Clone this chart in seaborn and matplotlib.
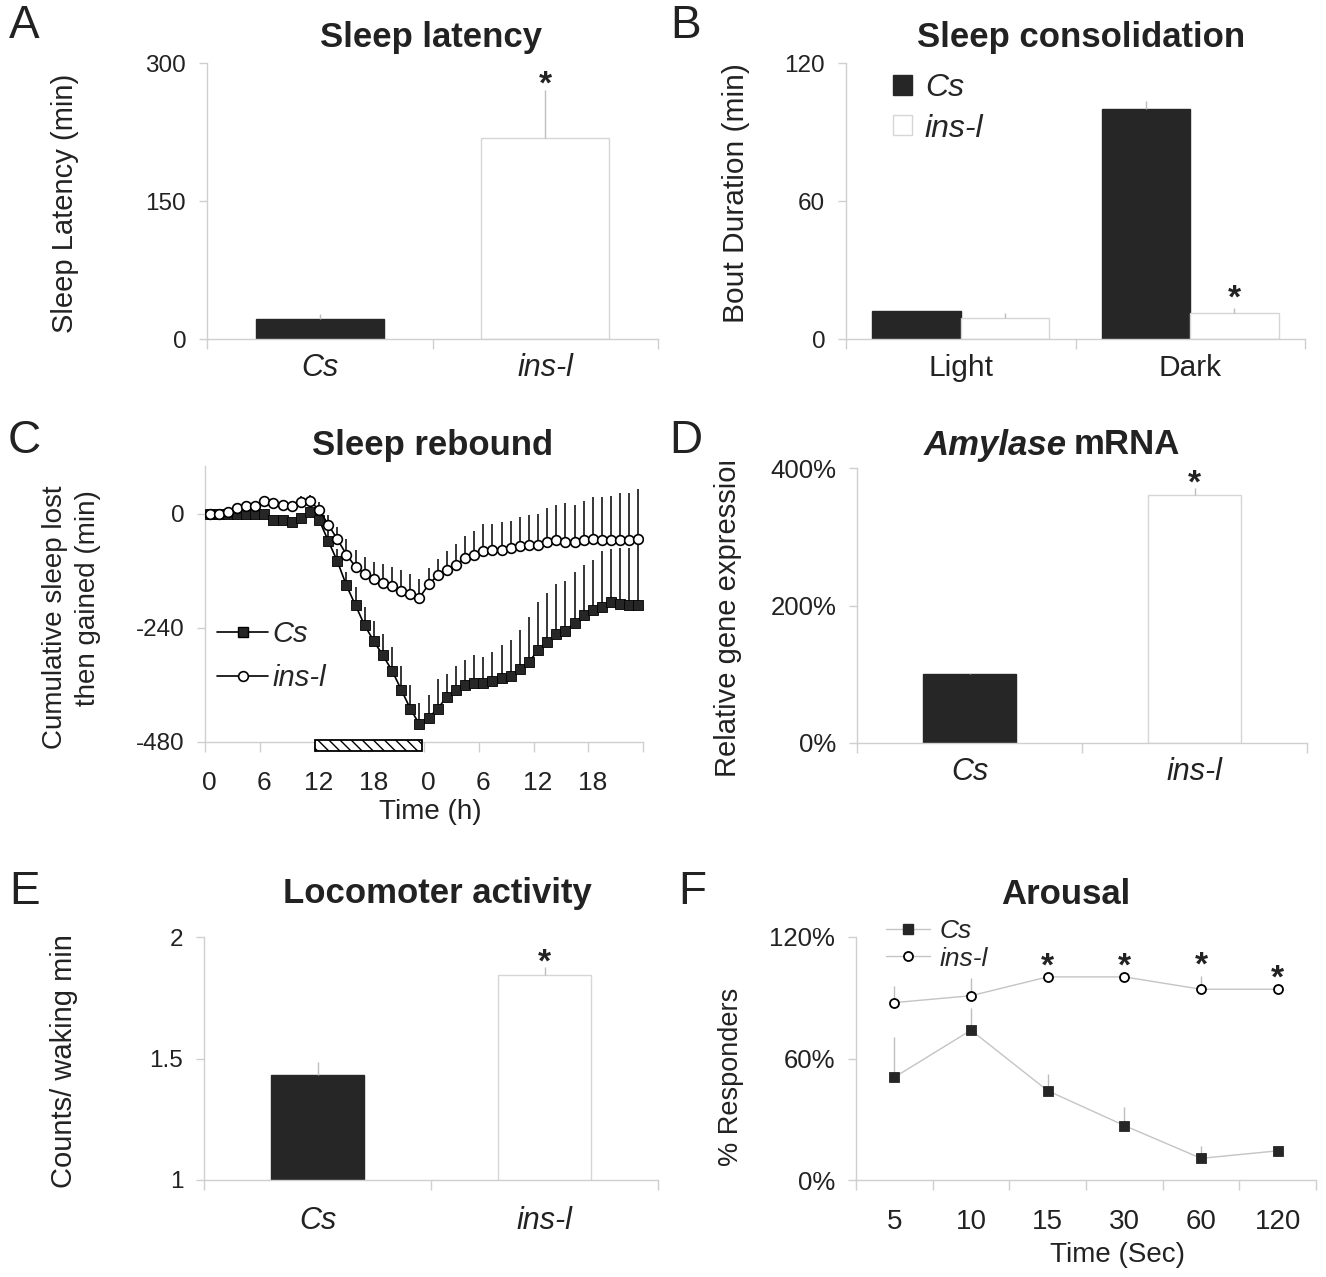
import numpy as np
import pandas as pd
import matplotlib
matplotlib.use('Agg')
import matplotlib.pyplot as plt
import seaborn as sns
from matplotlib.patches import Rectangle, Patch
from matplotlib.lines import Line2D
from matplotlib.ticker import FixedLocator
from matplotlib.transforms import Bbox
from matplotlib import font_manager as fm

# ---------------- data ----------------
genotypes = ['Cs', 'ins-l']

latency = [22, 219]
latency_err = [5, 52]

phases = ['Light', 'Dark']
bout_cs = [12.3, 100.0]
bout_cs_err = [0.0, 3.6]
bout_ins = [9.0, 11.1]
bout_ins_err = [2.2, 2.2]

hours = list(range(48))
hour_ticks = [0, 6, 12, 18, 24, 30, 36, 42]
hour_labels = ['0', '6', '12', '18', '0', '6', '12', '18']
rebound_cs = [0, 0, 0, 0, 0, 0, 0, -14, -14, -17, -10, 3, -13, -57, -100, -151,
              -193, -235, -268, -298, -330, -370, -410, -443, -429, -410, -385, -371,
              -361, -356, -356, -352, -345, -342, -327, -312, -287, -270, -254, -247,
              -229, -214, -203, -196, -186, -189, -193, -193]
rebound_cs_err = [2, 2, 2, 2, 2, 2, 2, 5, 5, 5, 8, 6, 10, 20, 25, 28,
                  38, 38, 43, 46, 50, 49, 49, 45, 47, 62, 48, 50,
                  53, 58, 55, 61, 68, 76, 83, 95, 101, 103, 105, 105,
                  106, 105, 106, 117, 112, 117, 121, 130]
rebound_ins = [0, 0, 4, 12, 16, 16, 27, 22, 19, 15, 24, 26, 8, -23, -54, -86,
               -112, -126, -137, -146, -153, -163, -170, -177, -149, -130, -119, -108,
               -93, -86, -79, -76, -76, -72, -68, -65, -65, -60, -56, -60,
               -60, -56, -53, -56, -56, -56, -56, -53]
rebound_ins_err = [0, 0, 3, 5, 6, 8, 11, 10, 8, 8, 12, 14, 16, 20, 26, 32,
                   35, 35, 35, 41, 41, 44, 44, 40, 35, 35, 41, 44,
                   45, 49, 57, 55, 58, 57, 61, 61, 65, 71, 75, 83,
                   78, 82, 87, 90, 93, 100, 100, 104]
deprivation_window = (11.6, 23.3)

amylase = [100, 361]
amylase_err = [2, 10]

activity = [1.431, 1.844]
activity_err = [0.055, 0.034]

stim_times = ['5', '10', '15', '30', '60', '120']
arousal_cs = [50.7, 74.0, 44.1, 26.9, 10.7, 14.4]
arousal_cs_err = [20, 11, 8, 9, 6, 0]
arousal_ins = [87.6, 91.0, 100.3, 100.3, 94.2, 94.2]
arousal_ins_err = [8, 8.6, 0, 0, 6.6, 0]
arousal_sig = [False, False, True, True, True, True]

# ---------------- style ----------------
sns.set_theme(style='white')
names = {f.name for f in fm.fontManager.ttflist}
FONT = 'Liberation Sans Narrow' if 'Liberation Sans Narrow' in names else 'Liberation Sans'
plt.rcParams['font.family'] = [FONT, 'DejaVu Sans']
plt.rcParams['hatch.linewidth'] = 1.0

W, H = 1326, 1277
fig = plt.figure(figsize=(W / 100, H / 100), dpi=100)
fig.patch.set_facecolor('white')

DARK = '#262626'
EDGE = '#d6d6d6'
AXC = '#cfcfcf'
ERR = '#bdbdbd'
TXT = '#222222'
YTICK = 17.5
NUMX = 19.5
CAT = 22
TITLE = 25


def axes_px(l, r, t, b):
    ax = fig.add_axes([l / W, 1 - b / H, (r - l) / W, (b - t) / H])
    ax.set_facecolor('none')
    return ax


def style(ax, ysize=YTICK):
    for s in ['top', 'right']:
        ax.spines[s].set_visible(False)
    for s in ['left', 'bottom']:
        ax.spines[s].set_color(AXC)
        ax.spines[s].set_linewidth(1)
    ax.tick_params(axis='y', direction='out', length=6, width=1, color=AXC,
                   labelsize=ysize, labelcolor=TXT, pad=9, left=True)
    ax.set_xlabel('')
    ax.set_ylabel('')


def cat_axis(ax, centers, labels, lo, hi, step, pad, size, italic=True):
    ax.set_xlim(lo, hi)
    ax.xaxis.set_major_locator(FixedLocator(centers))
    ax.set_xticklabels(labels, fontsize=size, color=TXT,
                       style='italic' if italic else 'normal')
    ax.xaxis.set_minor_locator(FixedLocator(np.arange(lo, hi + 0.01, step)))
    ax.tick_params(axis='x', which='major', length=0, pad=pad, bottom=True)
    ax.tick_params(axis='x', which='minor', length=7, width=1, color=AXC,
                   direction='out', bottom=True)


def star(ax, x, y, gap_px):
    ax.annotate('*', xy=(x, y), xytext=(0, (gap_px - 17.5) * 0.72),
                textcoords='offset points', ha='center', va='baseline',
                fontsize=24, fontweight='bold', color=TXT, annotation_clip=False)


def single_bars(ax, vals, errs, width):
    df = pd.DataFrame({'g': genotypes, 'v': vals})
    sns.barplot(data=df, x='g', y='v', hue='g', palette=[DARK, 'white'],
                width=width, saturation=1, errorbar=None, legend=False, ax=ax)
    bars = list(ax.patches)
    for p, ec in zip(bars, [DARK, EDGE]):
        p.set_edgecolor(ec)
        p.set_linewidth(1)
    centers = [p.get_x() + p.get_width() / 2 for p in bars]
    ax.errorbar(centers, vals, yerr=[np.zeros(len(vals)), errs], fmt='none',
                ecolor=ERR, elinewidth=1, capsize=0, zorder=3)
    return centers


def ftext(x, y, s, **kw):
    kw.setdefault('color', TXT)
    return fig.text(x / W, 1 - y / H, s, **kw)


# ---------------- panel A ----------------
axA = axes_px(207, 658, 63, 339)
cA = single_bars(axA, latency, latency_err, 0.567)
style(axA)
axA.set_ylim(0, 300)
axA.set_yticks([0, 150, 300])
cat_axis(axA, [0, 1], genotypes, -0.5, 1.5, 1, 10, CAT)
star(axA, cA[1], latency[1] + latency_err[1], 14)

# ---------------- panel B ----------------
axB = axes_px(846, 1305, 63, 339)
dfB = pd.DataFrame({'phase': phases * 2,
                    'geno': ['Cs'] * 2 + ['ins-l'] * 2,
                    'v': bout_cs + bout_ins})
sns.barplot(data=dfB, x='phase', y='v', hue='geno',
            palette={'Cs': DARK, 'ins-l': 'white'}, width=0.77, saturation=1,
            errorbar=None, ax=axB)
if axB.get_legend() is not None:
    axB.get_legend().remove()
errsB = [bout_cs_err, bout_ins_err]
valsB = [bout_cs, bout_ins]
bar_conts = list(axB.containers)[:2]
for k, cont in enumerate(bar_conts):
    cx = []
    for p in cont.patches:
        p.set_edgecolor(DARK if k == 0 else EDGE)
        p.set_linewidth(1)
        cx.append(p.get_x() + p.get_width() / 2)
    axB.errorbar(cx, valsB[k], yerr=[np.zeros(2), errsB[k]], fmt='none',
                 ecolor=ERR, elinewidth=1, capsize=0, zorder=3)
    if k == 1:
        star(axB, cx[1], bout_ins[1] + bout_ins_err[1], 18)
style(axB)
axB.set_ylim(0, 120)
axB.set_yticks([0, 60, 120])
cat_axis(axB, [0, 1], phases, -0.5, 1.5, 1, 11, 21.5, italic=False)
axB.legend(handles=[Patch(facecolor=DARK, edgecolor=DARK),
                    Patch(facecolor='white', edgecolor=EDGE)],
           labels=genotypes, loc='upper left',
           bbox_to_anchor=(893 / W, 1 - 73 / H), bbox_transform=fig.transFigure,
           frameon=False, prop={'style': 'italic', 'size': 23},
           handlelength=0.6, handleheight=0.6, handletextpad=0.4,
           labelspacing=0.33, borderpad=0, borderaxespad=0)

# ---------------- panel C ----------------
axC = axes_px(205, 643, 466, 742)
sns.lineplot(x=hours, y=rebound_cs, ax=axC, color='black', lw=1.2, marker='s',
             markersize=7, markerfacecolor=DARK, markeredgecolor='black',
             markeredgewidth=0.6, zorder=3)
axC.errorbar(hours, rebound_cs, yerr=[np.zeros(48), rebound_cs_err], fmt='none',
             ecolor='black', elinewidth=1.1, capsize=0, zorder=2)
sns.lineplot(x=hours, y=rebound_ins, ax=axC, color='black', lw=1.2, marker='o',
             markersize=7, markerfacecolor='white', markeredgecolor='black',
             markeredgewidth=1.2, zorder=5)
axC.errorbar(hours, rebound_ins, yerr=[np.zeros(48), rebound_ins_err], fmt='none',
             ecolor='black', elinewidth=1.1, capsize=0, zorder=4)
style(axC)
axC.set_ylim(-480, 100)
axC.set_yticks([-480, -240, 0])
axC.set_yticklabels(['-480', '-240', '0'])
cat_axis(axC, hour_ticks, hour_labels, -0.5, 47.5, 6, 21, 19, italic=False)
axC.add_patch(Rectangle((deprivation_window[0], -498),
                        deprivation_window[1] - deprivation_window[0], 22,
                        facecolor='white', edgecolor='black', lw=1.3,
                        hatch='\\\\\\', clip_on=False, zorder=6))
hC1 = Line2D([], [], color='black', lw=1.2, marker='s', ms=7, mfc=DARK, mec='black')
hC2 = Line2D([], [], color='black', lw=1.2, marker='o', ms=7, mfc='white',
             mec='black', mew=1.2)
axC.legend([hC1, hC2], genotypes, loc='upper left',
           bbox_to_anchor=(217 / W, 1 - 620 / H), bbox_transform=fig.transFigure,
           frameon=False, prop={'style': 'italic', 'size': 21},
           handlelength=1.75, handletextpad=0.15, labelspacing=0.55,
           borderpad=0, borderaxespad=0)

# ---------------- panel D ----------------
axD = axes_px(857, 1307, 468, 743)
cD = single_bars(axD, amylase, amylase_err, 0.413)
style(axD, 18.5)
axD.set_ylim(0, 400)
axD.set_yticks([0, 200, 400])
axD.set_yticklabels(['0%', '200%', '400%'])
cat_axis(axD, [0, 1], genotypes, -0.5, 1.5, 1, 10, CAT)
star(axD, cD[1], amylase[1] + amylase_err[1], 13)

# ---------------- panel E ----------------
axE = axes_px(204, 658, 937, 1180)
cE = single_bars(axE, activity, activity_err, 0.41)
style(axE)
axE.set_ylim(1, 2)
axE.set_yticks([1, 1.5, 2])
axE.set_yticklabels(['1', '1.5', '2'])
cat_axis(axE, [0, 1], genotypes, -0.5, 1.5, 1, 19, CAT)
star(axE, cE[1], activity[1] + activity_err[1], 13)

# ---------------- panel F ----------------
axF = axes_px(856, 1316, 937, 1180)
pos = list(range(len(stim_times)))
GL = '#c4c4c4'
sns.lineplot(x=pos, y=arousal_cs, ax=axF, color=GL, lw=1, marker='s', markersize=7,
             markerfacecolor=DARK, markeredgecolor=DARK, markeredgewidth=0.6, zorder=3)
sns.lineplot(x=pos, y=arousal_ins, ax=axF, color=GL, lw=1, marker='o', markersize=6.5,
             markerfacecolor='white', markeredgecolor='black', markeredgewidth=1.3, zorder=3)
axF.errorbar(pos, arousal_cs, yerr=[np.zeros(6), arousal_cs_err], fmt='none',
             ecolor=ERR, elinewidth=1, capsize=0, zorder=2)
axF.errorbar(pos, arousal_ins, yerr=[np.zeros(6), arousal_ins_err], fmt='none',
             ecolor=ERR, elinewidth=1, capsize=0, zorder=2)
for i, sig in enumerate(arousal_sig):
    if sig:
        star(axF, pos[i], arousal_ins[i] + arousal_ins_err[i], 19)
style(axF, 18.5)
axF.set_ylim(0, 120)
axF.set_yticks([0, 60, 120])
axF.set_yticklabels(['0%', '60%', '120%'])
cat_axis(axF, pos, stim_times, -0.5, 5.5, 1, 21, 20, italic=False)
hF1 = Line2D([], [], color=GL, lw=1, marker='s', ms=7, mfc=DARK, mec=DARK)
hF2 = Line2D([], [], color=GL, lw=1, marker='o', ms=6.5, mfc='white', mec='black', mew=1.3)
axF.legend([hF1, hF2], genotypes, loc='upper left',
           bbox_to_anchor=(886 / W, 1 - 919 / H), bbox_transform=fig.transFigure,
           frameon=False, prop={'style': 'italic', 'size': 19},
           handlelength=1.65, handletextpad=0.38, labelspacing=0.14,
           borderpad=0, borderaxespad=0)

# ---------------- text ----------------
for (x, y, s) in [(24, 26, 'A'), (686, 26, 'B'), (24, 441, 'C'), (686, 441, 'D'),
                  (25, 892, 'E'), (692, 892, 'F')]:
    ftext(x, y, s, fontsize=33, ha='center', va='center')

ftext(431, 37, 'Sleep latency', fontsize=TITLE, fontweight='bold', ha='center', va='center')
ftext(1081, 37, 'Sleep consolidation', fontsize=TITLE, fontweight='bold', ha='center', va='center')
ftext(433, 445, 'Sleep rebound', fontsize=TITLE, fontweight='bold', ha='center', va='center')
ftext(1067, 445, 'Amylase', fontsize=TITLE, fontweight='bold', style='italic', ha='right', va='center')
ftext(1074, 445, 'mRNA', fontsize=TITLE, fontweight='bold', ha='left', va='center')
ftext(437, 894, 'Locomoter activity', fontsize=TITLE, fontweight='bold', ha='center', va='center')
ftext(1066, 894, 'Arousal', fontsize=TITLE, fontweight='bold', ha='center', va='center')

ftext(65, 203, 'Sleep Latency (min)', fontsize=21, rotation=90, ha='center', va='center')
ftext(736, 193, 'Bout Duration (min)', fontsize=21.5, rotation=90, ha='center', va='center')
ftext(55, 617, 'Cumulative sleep lost', fontsize=20, rotation=90, ha='center', va='center')
ftext(88, 598, 'then gained (min)', fontsize=20, rotation=90, ha='center', va='center')
tD = ftext(728, 777, 'Relative gene expression', fontsize=21, rotation=90,
           ha='center', va='bottom')
tD.set_clip_box(Bbox.from_extents(0, 0, W, H - 462))
tD.set_clip_on(True)
ftext(64, 1061, 'Counts/ waking min', fontsize=21, rotation=90, ha='center', va='center')
ftext(731, 1077, '% Responders', fontsize=19.5, rotation=90, ha='center', va='center')
ftext(430, 812, 'Time (h)', fontsize=20, ha='center', va='center')
ftext(1118, 1255, 'Time (Sec)', fontsize=20, ha='center', va='center')

fig.savefig('out.png', dpi=100, facecolor='white')
